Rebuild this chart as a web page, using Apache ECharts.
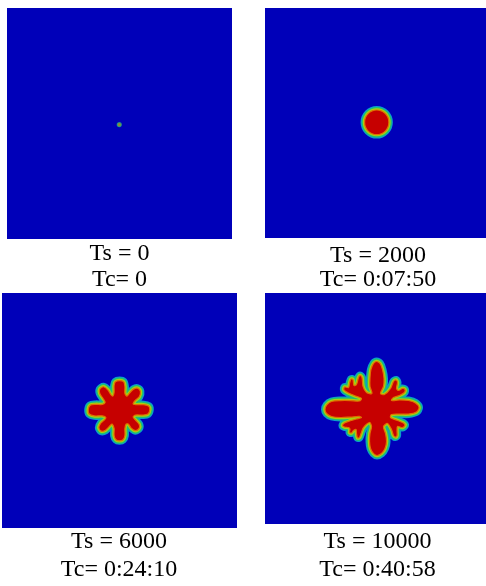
<!DOCTYPE html>
<html><head><meta charset="utf-8">
<script src="https://cdn.jsdelivr.net/npm/echarts@6/dist/echarts.min.js"></script>
<style>html,body{margin:0;padding:0;background:#fff}#c{width:486px;height:586px}</style>
</head><body><div id="c"></div>
<script>
// Time steps and wall-clock times of the four snapshots
const timeSteps = [0, 2000, 6000, 10000];
const clockTimes = ['0', '0:07:50', '0:24:10', '0:40:58'];

// Solid seed at Ts = 0 (simulation domain -100..100)
const seedPoint = [[-0.2, -1.0]];

// Solid/liquid interface outlines (x, y in simulation domain units)
const outline2000 = [
  [12.1,0.6],[11.3,4.7],[8.9,8.2],[5.3,10.5],[1.1,11.3],[-3.1,10.5],[-6.7,8.2],[-9.1,4.7],
  [-9.9,0.6],[-9.1,-3.5],[-6.7,-7.0],[-3.1,-9.3],[1.1,-10.1],[5.3,-9.3],[8.9,-7.0],[11.3,-3.5]
];
const outline6000 = [
  [0,25.5],[3.5,24.5],[4.6,20.4],[4.6,14.5],[6.3,12.3],[8.5,14.8],[11.9,18.2],[15.3,19.0],[17.8,16.2],[16.8,11.6],[13.2,8.3],
  [11.6,5.4],[14.5,5.0],[20.4,5.0],[24.7,3.8],[25.8,0.9],[24.2,-3.0],[19.6,-3.9],[13.6,-3.9],
  [11.6,-5.6],[13.8,-8.3],[16.8,-11.9],[16.8,-15.0],[13.6,-17.2],[10.0,-15.0],[7.4,-11.5],
  [5.6,-11.6],[4.6,-15.3],[4.6,-21.3],[3.0,-24.9],[0,-25.8],[-3.0,-24.9],[-4.6,-21.3],[-4.6,-15.3],
  [-6.3,-11.6],[-8.3,-13.2],[-11.9,-16.8],[-15.5,-17.6],[-17.6,-14.5],[-15.8,-10.6],[-12.8,-8.0],
  [-11.6,-5.9],[-14.5,-4.6],[-21.3,-4.6],[-25.8,-3.0],[-26.6,0.9],[-25.0,4.5],[-20.4,5.2],[-14.5,5.2],
  [-12.2,7.0],[-14.0,10.2],[-16.8,14.5],[-16.8,18.2],[-13.6,20.2],[-9.8,17.4],[-7.4,13.6],
  [-5.6,12.3],[-4.6,15.3],[-4.6,21.3],[-3.5,24.5]
];
const outline10000 = [
  [0.9,40.7],[4.1,39.0],[6.3,33.8],[7.7,26.0],[7.2,19.1],[4.5,13.0],
  [8.1,12.1],[13.6,17.3],[16.3,23.4],[18.6,24.7],[19.9,22.5],[19.0,17.3],[20.8,15.6],[24.4,17.3],[26.7,16.5],[26.2,13.9],[21.7,11.3],[16.3,9.5],
  [14.5,6.9],[21.7,7.4],[29.9,6.9],[36.2,4.8],[39.4,0.9],[37.1,-3.0],[29.9,-4.8],[21.7,-4.8],[14.5,-5.2],
  [13.6,-7.8],[19.9,-10.4],[25.3,-12.6],[26.7,-14.7],[24.4,-16.5],[19.9,-15.6],[19.5,-19.1],[19.5,-23.4],[18.1,-24.7],[16.3,-23.4],[14.5,-18.2],[10.9,-13.0],
  [7.2,-15.6],[9.1,-21.7],[10.0,-28.6],[8.6,-34.6],[5.4,-39.0],[1.4,-40.7],[-1.8,-39.0],[-4.5,-34.6],[-5.4,-28.6],[-5.0,-21.7],[-3.6,-15.6],
  [-5.4,-12.1],[-10.9,-16.5],[-13.1,-21.7],[-14.5,-25.1],[-16.3,-25.5],[-17.2,-21.7],[-17.6,-18.2],[-19.9,-19.1],[-21.7,-21.2],[-23.5,-20.8],[-23.1,-17.8],[-24.4,-16.5],[-28.1,-16.0],[-29.9,-14.7],[-28.1,-12.6],[-23.5,-10.8],[-17.2,-9.1],[-12.7,-7.8],
  [-14.5,-6.9],[-22.6,-7.4],[-31.7,-7.8],[-39.8,-6.9],[-44.3,-4.3],[-45.7,-0.9],[-44.3,3.0],[-39.8,6.1],[-31.7,6.9],[-22.6,6.9],[-14.5,6.5],
  [-12.7,8.7],[-18.1,10.8],[-24.4,13.4],[-28.5,16.0],[-28.1,18.6],[-24.4,18.2],[-23.5,21.7],[-22.2,25.5],[-20.4,25.1],[-19.5,19.9],[-17.2,20.8],[-15.4,26.8],[-14.0,28.6],[-12.2,26.8],[-11.3,19.1],[-8.1,13.9],
  [-3.2,13.0],[-5.0,19.1],[-5.0,26.0],[-4.1,33.8],[-1.8,39.0]
];

const LIQUID = '#0000b9';
const SOLID = '#c60000';

const panels = [
  {left: 7, top: 8, width: 225, height: 231},
  {left: 265, top: 8, width: 221, height: 230},
  {left: 2, top: 293, width: 235, height: 235},
  {left: 265, top: 293, width: 221, height: 231}
];
const labelY = [[253.7, 279.5], [255.8, 280.2], [542.2, 569.8], [542.2, 570]];
const labelX = [119.5, 378, 119, 377.5];

function makeRender(shape) {
  return function (params, api) {
    if (params.dataIndex !== 0) return null;
    const pts = shape.map(p => api.coord(p));
    const layer = (style) => ({type: 'polygon', shape: {points: pts, smooth: 0.3}, style: style});
    return {type: 'group', children: [
      layer({fill: 'none', stroke: '#0a9ad0', lineWidth: 8, lineJoin: 'round'}),
      layer({fill: 'none', stroke: '#20c070', lineWidth: 6, lineJoin: 'round'}),
      layer({fill: 'none', stroke: '#a8d010', lineWidth: 3.5, lineJoin: 'round'}),
      layer({fill: SOLID, stroke: '#e07000', lineWidth: 1.2, lineJoin: 'round'})
    ]};
  };
}

const shapes = [null, outline2000, outline6000, outline10000];
const series = [{
  type: 'scatter', xAxisIndex: 0, yAxisIndex: 0, data: seedPoint, symbolSize: 4,
  itemStyle: {color: '#c8a010', borderColor: '#20b080', borderWidth: 1.2}, silent: true
}];
for (let i = 1; i < 4; i++) {
  series.push({type: 'custom', xAxisIndex: i, yAxisIndex: i, data: shapes[i], renderItem: makeRender(shapes[i]), silent: true, clip: true});
}

const graphic = [];
for (let i = 0; i < 4; i++) {
  const lines = ['Ts = ' + timeSteps[i], 'Tc= ' + clockTimes[i]];
  lines.forEach((t, j) => graphic.push({
    type: 'text', x: labelX[i], y: labelY[i][j],
    style: {text: t, fill: '#000', font: '24px "Liberation Serif", "Times New Roman", serif', align: 'center', verticalAlign: 'middle'}
  }));
}

const chart = echarts.init(document.getElementById('c'), null, {renderer: 'canvas'});
chart.setOption({
  animation: false,
  backgroundColor: '#ffffff',
  grid: panels.map(p => Object.assign({show: true, backgroundColor: LIQUID, borderWidth: 0}, p)),
  xAxis: panels.map((p, i) => ({type: 'value', gridIndex: i, min: -100, max: 100, show: false})),
  yAxis: panels.map((p, i) => ({type: 'value', gridIndex: i, min: -100, max: 100, show: false})),
  series: series,
  graphic: graphic
});
</script></body></html>
